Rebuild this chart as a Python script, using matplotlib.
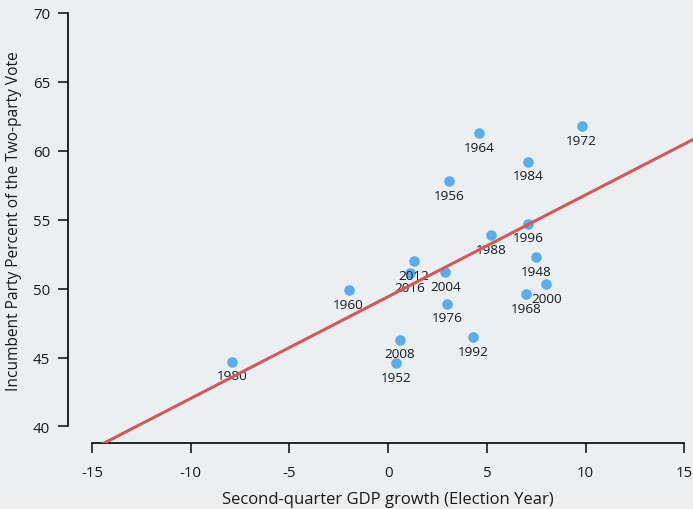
import numpy as np
import matplotlib.pyplot as plt

# data: election year, Q2 GDP growth, incumbent share of two-party vote
years = ['1948', '1952', '1956', '1960', '1964', '1968', '1972', '1976', '1980',
         '1984', '1988', '1992', '1996', '2000', '2004', '2008', '2012', '2016']
gdp = [7.5, 0.4, 3.1, -2.0, 4.6, 7.0, 9.8, 3.0, -7.9,
       7.1, 5.2, 4.3, 7.1, 8.0, 2.9, 0.6, 1.3, 1.1]
vote = [52.3, 44.6, 57.8, 49.9, 61.3, 49.6, 61.8, 48.9, 44.7,
        59.2, 53.9, 46.5, 54.7, 50.3, 51.2, 46.3, 52.0, 51.1]
xticks = [-15, -10, -5, 0, 5, 10, 15]
yticks = [40, 45, 50, 55, 60, 65, 70]

BG = '#eceff1'
plt.rcParams['font.family'] = ['Open Sans', 'DejaVu Sans']

fig = plt.figure(figsize=(6.93, 5.10), dpi=100, facecolor=BG)
# axes run past the right/top figure edge, like the reference
ax = fig.add_axes([68.4 / 693, 66 / 510, 639.6 / 693, 446.6 / 510])
ax.set_facecolor(BG)

ax.scatter(gdp, vote, s=58, color='#5aacee', zorder=2, linewidths=0)
for yr, x, y in zip(years, gdp, vote):
    ax.annotate(yr, (x, y), xytext=(0, -5.5), textcoords='offset points',
                ha='center', va='top', fontsize=9.7, color='#1a1a1a', zorder=3)

# least-squares fit line
slope, icpt = np.polyfit(gdp, vote, 1)
xs = np.array([-17, 17])
ax.plot(xs, icpt + slope * xs, color='#d05a5a', linewidth=2.2, zorder=4)

ax.set_xlim(-16.2, 16.2)
ax.set_ylim(38.8, 71.2)
ax.set_xticks(xticks)
ax.set_yticks(yticks)
ax.set_xticklabels([str(t) for t in xticks])
ax.set_yticklabels([str(t) for t in yticks])

for s in ['top', 'right']:
    ax.spines[s].set_visible(False)
ax.spines['left'].set_bounds(40, 70)
ax.spines['bottom'].set_bounds(-15, 15)
ax.spines['left'].set_linewidth(1.2)
ax.spines['bottom'].set_linewidth(1.2)
ax.tick_params(length=7, width=1.2, labelsize=10.8, colors='#1a1a1a')
ax.tick_params(axis='x', pad=9)
ax.tick_params(axis='y', pad=6)

ax.set_xlabel('Second-quarter GDP growth (Election Year)', fontsize=12,
              color='#1a1a1a', labelpad=8)
ax.set_ylabel('Incumbent Party Percent of the Two-party Vote', fontsize=11.2,
              color='#1a1a1a', labelpad=6)
ax.yaxis.set_label_coords(-0.072, 0.5)

fig.savefig('out.png', dpi=100, facecolor=BG)
